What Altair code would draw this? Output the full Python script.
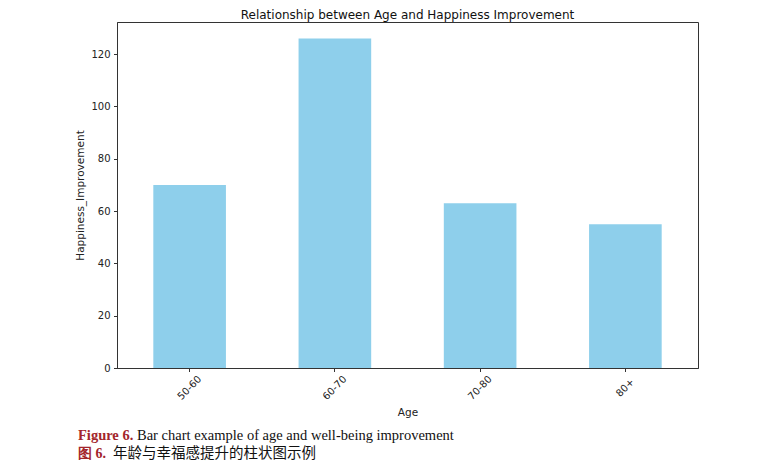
import altair as alt
import pandas as pd

ages = ["50-60", "60-70", "70-80", "80+"]
improvement = [70, 126, 63, 55]

caption_en_label = "Figure 6."
caption_en_text = "Bar chart example of age and well-being improvement"
caption_zh_label = "图 6."
caption_zh_text = "年龄与幸福感提升的柱状图示例"

df = pd.DataFrame({"Age": ages, "Happiness_Improvement": improvement})

W, H = 581, 346

bars = alt.Chart(df).mark_bar(color="#8ecfeb").encode(
    x=alt.X("Age:N", sort=ages,
            scale=alt.Scale(paddingInner=0.5, paddingOuter=0.25),
            axis=alt.Axis(labelAngle=-45, labelAlign="center", labelBaseline="middle",
                          labelPadding=16, tickSize=3.5, tickColor="#333", domainColor="#333",
                          labelFontSize=10, labelColor="#222", labelFont="DejaVu Sans",
                          title="Age", titleFont="DejaVu Sans", titleFontSize=10.5,
                          titleFontWeight="normal", titleColor="#222",
                          titleX=W / 2, titleY=44, titleBaseline="middle", titleAlign="center")),
    y=alt.Y("Happiness_Improvement:Q",
            scale=alt.Scale(domain=[0, 132.3], nice=False),
            axis=alt.Axis(values=[0, 20, 40, 60, 80, 100, 120], grid=False,
                          tickSize=3.5, labelPadding=3.5, tickColor="#333", domainColor="#333",
                          labelFontSize=10, labelColor="#222", labelFont="DejaVu Sans",
                          title="Happiness_Improvement", titleFont="DejaVu Sans", titleFontSize=10.5,
                          titleFontWeight="normal", titleColor="#222",
                          titleAngle=-90, titleX=-37, titleY=H / 2,
                          titleBaseline="middle", titleAlign="center")),
)

cap = pd.DataFrame({"a": [0]})

def txt(text, x, y, font, size, weight, color):
    return alt.Chart(cap).mark_text(text=text, align="left", baseline="middle", font=font,
                                    fontSize=size, fontWeight=weight, color=color,
                                    clip=False).encode(x=alt.value(x), y=alt.value(y))

red = "#a3262c"
c1 = txt(caption_en_label, -39, 413.5, "Liberation Serif", 14.5, "bold", red)
c2 = txt(caption_en_text, 20, 413.5, "Liberation Serif", 14.5, "normal", "#111")
c3 = txt(caption_zh_label, -39, 431.5, "Liberation Serif", 14, "bold", red)
c4 = txt(caption_zh_text, -4, 431.5, "Noto Sans CJK SC", 14.5, "normal", "#111")

chart = alt.layer(bars, c1, c2, c3, c4).properties(
    width=W, height=H,
    title=alt.TitleParams("Relationship between Age and Happiness Improvement",
                          font="DejaVu Sans", fontSize=12, fontWeight="normal",
                          color="#111", anchor="middle", offset=0),
    autosize=alt.AutoSizeParams(type="none"),
    padding={"left": 109, "top": 14, "right": 60, "bottom": 99},
    background="white",
).configure_view(stroke="#333", strokeWidth=1)

chart.save("out.html", embed_options={"renderer": "svg", "actions": False})
